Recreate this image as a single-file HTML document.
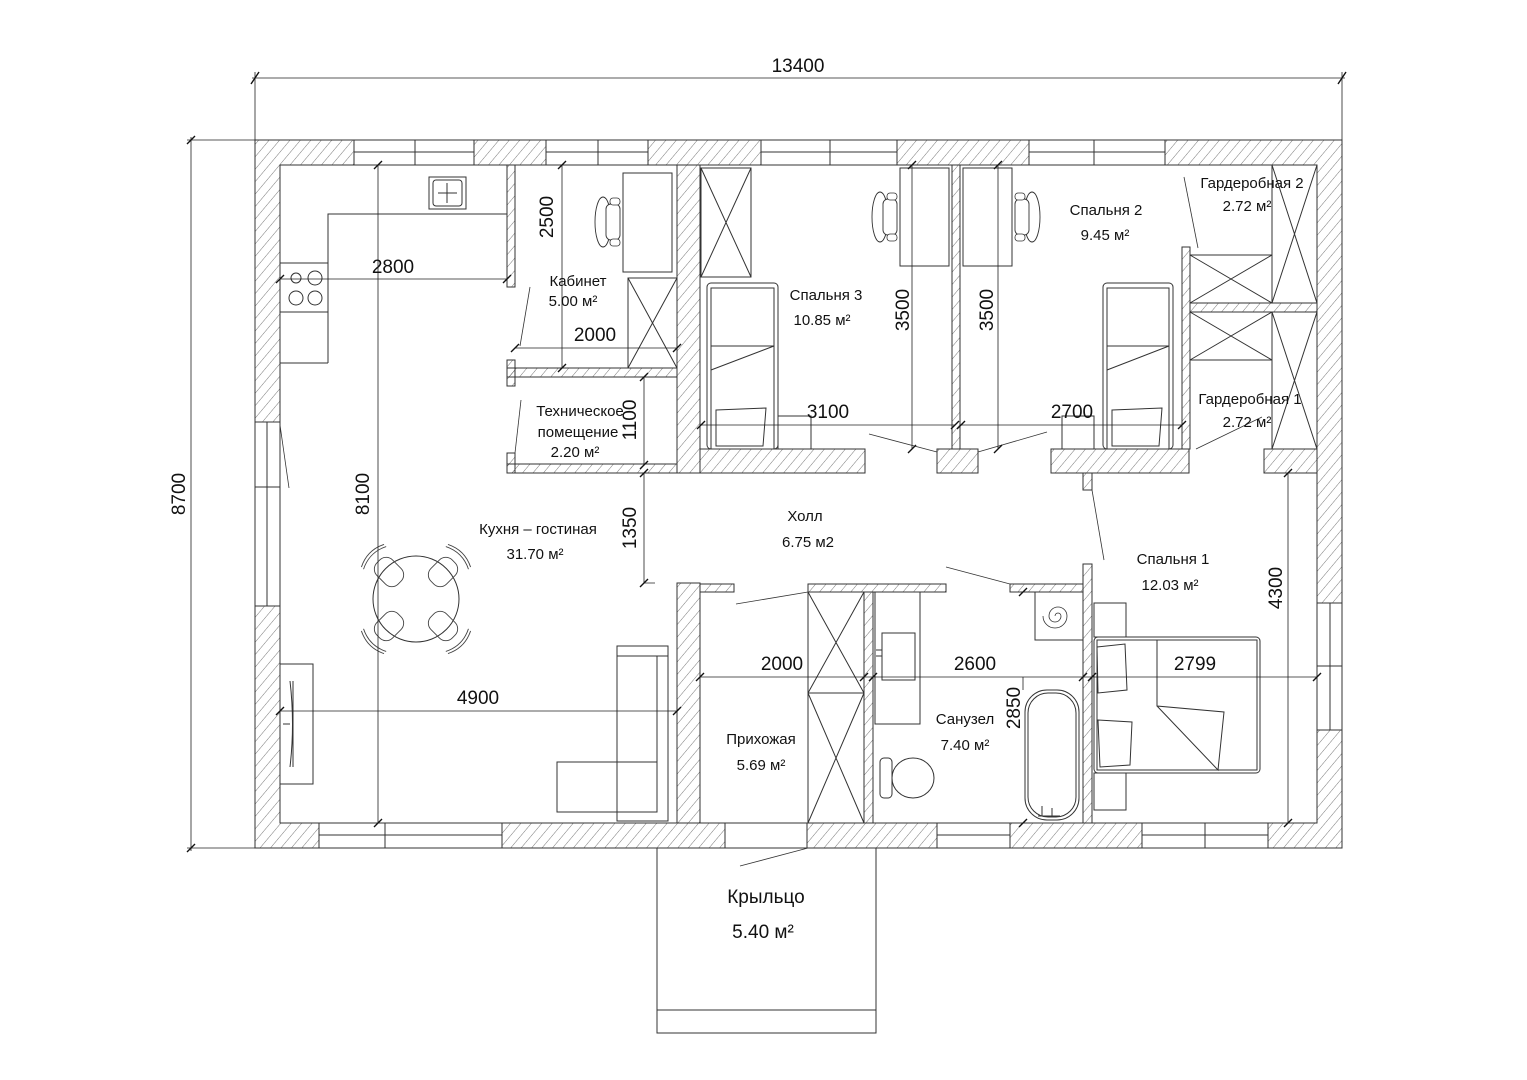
<!DOCTYPE html>
<html><head><meta charset="utf-8"><style>
html,body{margin:0;padding:0;background:#fff;}
svg{display:block;}
text{font-family:"Liberation Sans",sans-serif;fill:#111;}
</style></head><body>
<svg width="1527" height="1080" viewBox="0 0 1527 1080" xmlns="http://www.w3.org/2000/svg">
<defs>
<pattern id="h" patternUnits="userSpaceOnUse" width="8" height="8" patternTransform="rotate(40)">
<line x1="0" y1="0" x2="0" y2="8" stroke="#555" stroke-width="0.8"/>
</pattern>
<g id="chairD">
<ellipse cx="-12" cy="0" rx="8" ry="25" fill="#fff" stroke="#333" stroke-width="0.9"/>
<rect x="-9" y="-18" width="14" height="36" rx="5" fill="#fff" stroke="#333" stroke-width="0.9"/>
<rect x="-5" y="-24" width="10" height="7" rx="3" fill="#fff" stroke="#333" stroke-width="0.8"/>
<rect x="-5" y="17" width="10" height="7" rx="3" fill="#fff" stroke="#333" stroke-width="0.8"/>
</g>
<g id="tc">
<rect x="-11" y="-15" width="22" height="30" rx="9" fill="none" stroke="#444" stroke-width="0.9"/>
<path d="M-16,20 Q0,28 16,20" fill="none" stroke="#444" stroke-width="0.9"/>
<path d="M-16,23 Q0,31 16,23" fill="none" stroke="#444" stroke-width="0.9"/>
</g>
</defs>
<g stroke="#333" stroke-width="1" fill="none">
<rect x="255" y="140" width="1087" height="708" fill="url(#h)"/>
<rect x="280" y="165" width="1037" height="658" fill="#fff"/>

<g fill="#fff">
<rect x="354" y="140" width="120" height="25"/><rect x="546" y="140" width="102" height="25"/>
<rect x="761" y="140" width="136" height="25"/><rect x="1029" y="140" width="136" height="25"/>
<rect x="319" y="823" width="183" height="25"/><rect x="725" y="823" width="82" height="25"/>
<rect x="937" y="823" width="73" height="25"/><rect x="1142" y="823" width="126" height="25"/>
<rect x="255" y="422" width="25" height="184"/><rect x="1317" y="603" width="25" height="127"/>
</g>
<path d="M354,152H474M415,140V165M546,152H648M598,140V165M761,152H897M830,140V165M1029,152H1165M1094,140V165"/>
<path d="M319,835H502M385,823V848M937,835H1010M1142,835H1268M1205,823V848"/>
<path d="M267,422V606M255,487H280M1330,603V730M1317,666H1342"/>

<g fill="url(#h)">
<rect x="507" y="165" width="8" height="122"/>
<rect x="507" y="360" width="8" height="26"/>
<rect x="507" y="368" width="170" height="9"/>
<rect x="507" y="453" width="8" height="20"/>
<rect x="507" y="464" width="170" height="9"/>
<rect x="677" y="165" width="23" height="308"/>
<rect x="677" y="583" width="23" height="240"/>
<rect x="700" y="449" width="165" height="24"/>
<rect x="952" y="165" width="8" height="284"/>
<rect x="937" y="449" width="41" height="24"/>
<rect x="1051" y="449" width="138" height="24"/>
<rect x="1083" y="473" width="9" height="17"/>
<rect x="1182" y="247" width="8" height="202"/>
<rect x="1190" y="303" width="127" height="9"/>
<rect x="1264" y="449" width="53" height="24"/>
<rect x="700" y="584" width="34" height="8"/>
<rect x="808" y="584" width="138" height="8"/>
<rect x="1010" y="584" width="73" height="8"/>
<rect x="1083" y="564" width="9" height="259"/>
<rect x="864" y="592" width="9" height="231"/>
</g>

<rect x="657" y="848" width="219" height="185"/>
<path d="M657,1010H876"/>
<path d="M740,866L808,848" stroke-width="0.8"/>

<path d="M328,363V214H507M280,363H328"/>
<rect x="280" y="263" width="48" height="49"/>
<circle cx="296" cy="278" r="5"/><circle cx="315" cy="278" r="7"/><circle cx="296" cy="298" r="7"/><circle cx="315" cy="298" r="7"/>
<rect x="429" y="177" width="37" height="32"/><rect x="433" y="180" width="29" height="26" rx="3"/>
<path d="M447,183V203M438,193H457"/>
<path d="M280,425L289,488" stroke-width="0.8"/>
<rect x="280" y="664" width="33" height="120"/>
<path d="M290,681Q295,724 290,767M293,681V767M283,724H290"/>
<circle cx="416" cy="599" r="43"/>
<use href="#tc" transform="translate(389,572) rotate(135)"/>
<use href="#tc" transform="translate(443,572) rotate(225)"/>
<use href="#tc" transform="translate(389,626) rotate(45)"/>
<use href="#tc" transform="translate(443,626) rotate(-45)"/>
<rect x="617" y="646" width="51" height="175"/>
<path d="M657,656V812M617,656H668"/>
<rect x="557" y="762" width="100" height="50"/>

<rect x="623" y="173" width="49" height="99"/>
<use href="#chairD" transform="translate(615,222)"/>
<rect x="628" y="278" width="49" height="90"/>
<path d="M628,278L677,368M677,278L628,368"/>
<path d="M530,287L520,346" stroke-width="0.8"/>
<path d="M521,400L515,453" stroke-width="0.8"/>

<rect x="701" y="168" width="50" height="109"/>
<path d="M701,168L751,277M751,168L701,277"/>
<rect x="900" y="168" width="49" height="98"/>
<use href="#chairD" transform="translate(892,217)"/>
<rect x="707" y="283" width="71" height="166" rx="4"/>
<rect x="711" y="288" width="63" height="161"/>
<path d="M711,370L774,346M711,346H774"/>
<path d="M716,410L766,408L763,446L716,446Z"/>
<rect x="778" y="416" width="33" height="33"/>
<path d="M869,434L937,452" stroke-width="0.8"/>

<rect x="963" y="168" width="49" height="98"/>
<use href="#chairD" transform="translate(1020,217) scale(-1,1)"/>
<rect x="1103" y="283" width="70" height="166" rx="4"/>
<rect x="1107" y="288" width="62" height="161"/>
<path d="M1107,370L1169,346M1107,346H1169"/>
<path d="M1112,410L1162,408L1159,446L1112,446Z"/>
<rect x="1062" y="416" width="32" height="33"/>
<path d="M978,452L1047,432" stroke-width="0.8"/>
<path d="M1184,177L1198,248" stroke-width="0.8"/>

<rect x="1190" y="255" width="82" height="48"/><path d="M1190,255L1272,303M1272,255L1190,303"/>
<rect x="1272" y="165" width="45" height="138"/><path d="M1272,165L1317,303M1317,165L1272,303"/>
<rect x="1190" y="312" width="82" height="48"/><path d="M1190,312L1272,360M1272,312L1190,360"/>
<rect x="1272" y="312" width="45" height="137"/><path d="M1272,312L1317,449M1317,312L1272,449"/>
<path d="M1262,417L1196,449" stroke-width="0.8"/>

<path d="M736,604L808,592" stroke-width="0.8"/>
<path d="M946,567L1010,584" stroke-width="0.8"/>
<path d="M1092,490L1104,560" stroke-width="0.8"/>
<rect x="808" y="592" width="56" height="101"/><path d="M808,592L864,693M864,592L808,693"/>
<rect x="808" y="693" width="56" height="130"/><path d="M808,693L864,823M864,693L808,823"/>

<rect x="875" y="592" width="45" height="132"/>
<rect x="882" y="633" width="33" height="47"/>
<path d="M876,650H882M876,656H882"/>
<rect x="880" y="758" width="12" height="40" rx="4"/>
<ellipse cx="913" cy="778" rx="21" ry="20"/>
<rect x="1035" y="592" width="48" height="48"/>
<path d="M1058,616m-3,0a3,3 0 1,1 6,0a6,6 0 1,1 -12,0a9,9 0 1,1 18,0a12,12 0 1,1 -24,0" stroke-width="0.8"/>
<rect x="1025" y="690" width="54" height="130" rx="22"/>
<rect x="1028" y="693" width="48" height="124" rx="20"/>
<path d="M1042,816V806M1052,816V808M1038,816H1060"/>

<rect x="1094" y="603" width="32" height="34"/>
<rect x="1094" y="773" width="32" height="37"/>
<rect x="1094" y="637" width="166" height="136" rx="4"/>
<rect x="1097" y="640" width="160" height="130"/>
<path d="M1157,640V706L1224,712L1218,770L1157,706"/>
<path d="M1097,647L1125,644L1127,690L1098,693Z"/>
<path d="M1098,720L1132,722L1130,765L1100,767Z"/>
</g>

<g stroke="#222" stroke-width="0.8" fill="none">
<path d="M255,72V140M1342,72V140M252,78H1345"/>
<path d="M187,140H255M187,848H255M191,137V851"/>
<path d="M280,279H507M562,165V368M515,348H677M644,377V465M644,473V583H655M378,165V823M280,711H677"/>
<path d="M701,425H955M961,425H1182M912,165V449M998,165V449"/>
<path d="M700,677H1317M1023,677V690M1288,473V823"/>
</g>
<g stroke="#111" stroke-width="1.4">
<path d="M251,84L259,72M1338,84L1346,72M187,144L195,136M187,852L195,844"/>
<path d="M276,283L284,275M503,283L511,275M558,169L566,161M558,372L566,364M511,352L519,344M673,352L681,344"/>
<path d="M640,381L648,373M640,469L648,461M640,477L648,469M640,587L648,579"/>
<path d="M374,169L382,161M374,827L382,819M276,715L284,707M673,715L681,707"/>
<path d="M697,429L705,421M951,429L959,421M957,429L965,421M1178,429L1186,421"/>
<path d="M908,169L916,161M908,453L916,445M994,169L1002,161M994,453L1002,445"/>
<path d="M696,681L704,673M860,681L868,673M869,681L877,673M1079,681L1087,673M1088,681L1096,673M1313,681L1321,673"/>
<path d="M1284,477L1292,469M1284,827L1292,819M1019,827L1027,819M1019,596L1027,588"/>
</g>

<g font-size="19" text-anchor="middle">
<text x="798" y="72">13400</text>
<text transform="translate(185,494) rotate(-90)">8700</text>
<text x="393" y="273">2800</text>
<text transform="translate(553,217) rotate(-90)">2500</text>
<text x="595" y="341">2000</text>
<text transform="translate(636,420) rotate(-90)">1100</text>
<text transform="translate(636,528) rotate(-90)">1350</text>
<text transform="translate(369,494) rotate(-90)">8100</text>
<text x="478" y="704">4900</text>
<text x="828" y="418">3100</text>
<text x="1072" y="418">2700</text>
<text transform="translate(909,310) rotate(-90)">3500</text>
<text transform="translate(993,310) rotate(-90)">3500</text>
<text x="782" y="670">2000</text>
<text x="975" y="670">2600</text>
<text x="1195" y="670">2799</text>
<text transform="translate(1020,708) rotate(-90)">2850</text>
<text transform="translate(1282,588) rotate(-90)">4300</text>
</g>
<g font-size="15" text-anchor="middle">
<text x="578" y="286">Кабинет</text>
<text x="573" y="306">5.00 м²</text>
<text x="580" y="416">Техническое</text>
<text x="578" y="437">помещение</text>
<text x="575" y="457">2.20 м²</text>
<text x="538" y="534">Кухня – гостиная</text>
<text x="535" y="559">31.70 м²</text>
<text x="826" y="300">Спальня 3</text>
<text x="822" y="325">10.85 м²</text>
<text x="1106" y="215">Спальня 2</text>
<text x="1105" y="240">9.45 м²</text>
<text x="1252" y="188">Гардеробная 2</text>
<text x="1247" y="211">2.72 м²</text>
<text x="1250" y="404">Гардеробная 1</text>
<text x="1247" y="427">2.72 м²</text>
<text x="805" y="521">Холл</text>
<text x="808" y="547">6.75 м2</text>
<text x="1173" y="564">Спальня 1</text>
<text x="1170" y="590">12.03 м²</text>
<text x="761" y="744">Прихожая</text>
<text x="761" y="770">5.69 м²</text>
<text x="965" y="724">Санузел</text>
<text x="965" y="750">7.40 м²</text>
</g>
<g font-size="19" text-anchor="middle">
<text x="766" y="903">Крыльцо</text>
<text x="763" y="938">5.40 м²</text>
</g>
</svg>
</body></html>
